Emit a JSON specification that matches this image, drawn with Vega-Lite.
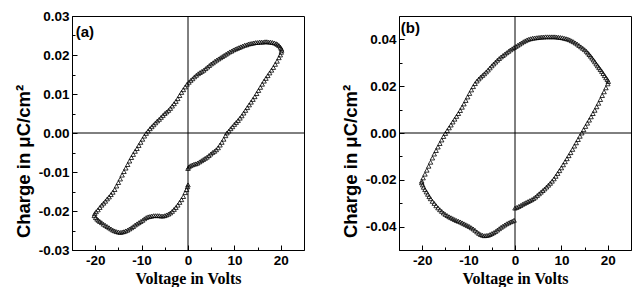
{
  "$schema": "https://vega.github.io/schema/vega-lite/v6.json",
  "padding": {"left": 13, "top": 8, "right": 0, "bottom": 0},
  "spacing": 35,
  "background": "white",
  "config": {
    "view": {"stroke": "black", "strokeWidth": 1},
    "axis": {"domainColor": "black", "domainWidth": 1, "tickColor": "black", "tickWidth": 1, "labelColor": "black", "labelFont": "Liberation Sans", "labelFontWeight": "bold", "labelFontSize": 13.5, "titleColor": "black", "titleFontWeight": "bold", "grid": false, "labelFlush": false, "labelOverlap": false, "labelBound": false, "tickCount": 50},
    "axisX": {"titleFont": "Liberation Sans Narrow", "titleFontSize": 16, "titlePadding": 2, "labelPadding": 8},
    "axisY": {"titleFont": "Liberation Sans", "titleFontSize": 18.5, "titlePadding": 3, "labelPadding": 8, "titleY": 145}
  },
  "datasets": {
    "a": [
      {"v":0.0,"q":-0.0091},{"v":0.2,"q":-0.0087},{"v":0.5,"q":-0.0084},{"v":0.9,"q":-0.0082},{"v":1.3,"q":-0.0080},{"v":1.7,"q":-0.0079},{"v":2.1,"q":-0.0077},{"v":2.5,"q":-0.0074},{"v":2.9,"q":-0.0071},{"v":3.3,"q":-0.0068},{"v":3.7,"q":-0.0065},{"v":4.1,"q":-0.0062},{"v":4.5,"q":-0.0058},{"v":4.9,"q":-0.0054},{"v":5.3,"q":-0.0050},{"v":5.7,"q":-0.0047},{"v":6.1,"q":-0.0043},{"v":6.5,"q":-0.0038},{"v":6.9,"q":-0.0031},{"v":7.3,"q":-0.0024},{"v":7.7,"q":-0.0016},{"v":8.1,"q":-0.0007},{"v":8.4,"q":0.0000},{"v":8.8,"q":0.0005},{"v":9.2,"q":0.0011},{"v":9.6,"q":0.0016},{"v":10.0,"q":0.0022},{"v":10.4,"q":0.0027},{"v":10.8,"q":0.0032},{"v":11.2,"q":0.0038},{"v":11.6,"q":0.0044},{"v":12.0,"q":0.0051},{"v":12.4,"q":0.0058},{"v":12.8,"q":0.0065},{"v":13.2,"q":0.0072},{"v":13.6,"q":0.0079},{"v":14.0,"q":0.0086},{"v":14.4,"q":0.0093},{"v":14.8,"q":0.0101},{"v":15.2,"q":0.0109},{"v":15.6,"q":0.0117},{"v":16.0,"q":0.0125},{"v":16.4,"q":0.0133},{"v":16.8,"q":0.0140},{"v":17.2,"q":0.0147},{"v":17.6,"q":0.0154},{"v":18.0,"q":0.0161},{"v":18.4,"q":0.0168},{"v":18.8,"q":0.0176},{"v":19.2,"q":0.0184},{"v":19.6,"q":0.0193},{"v":19.9,"q":0.0200},{"v":20.1,"q":0.0207},
      {"v":20.2,"q":0.0212},{"v":20.1,"q":0.0216},{"v":19.9,"q":0.0220},{"v":19.6,"q":0.0224},{"v":19.3,"q":0.0227},{"v":19.0,"q":0.0229},{"v":18.6,"q":0.0231},{"v":18.2,"q":0.0232},{"v":17.8,"q":0.0233},{"v":17.4,"q":0.0233},{"v":17.0,"q":0.0234},{"v":16.6,"q":0.0234},{"v":16.2,"q":0.0233},{"v":15.8,"q":0.0233},{"v":15.4,"q":0.0233},{"v":15.0,"q":0.0232},{"v":14.6,"q":0.0232},{"v":14.2,"q":0.0231},{"v":13.8,"q":0.0230},{"v":13.4,"q":0.0229},{"v":13.0,"q":0.0228},{"v":12.6,"q":0.0226},{"v":12.2,"q":0.0225},{"v":11.8,"q":0.0223},{"v":11.4,"q":0.0221},{"v":11.0,"q":0.0219},{"v":10.6,"q":0.0217},{"v":10.2,"q":0.0215},{"v":9.8,"q":0.0213},{"v":9.4,"q":0.0210},{"v":9.0,"q":0.0208},{"v":8.6,"q":0.0205},{"v":8.2,"q":0.0202},{"v":7.8,"q":0.0199},{"v":7.4,"q":0.0196},{"v":7.0,"q":0.0193},{"v":6.6,"q":0.0190},{"v":6.2,"q":0.0187},{"v":5.8,"q":0.0184},{"v":5.4,"q":0.0180},{"v":5.0,"q":0.0177},{"v":4.6,"q":0.0173},{"v":4.2,"q":0.0169},{"v":3.8,"q":0.0165},{"v":3.4,"q":0.0161},{"v":3.0,"q":0.0158},{"v":2.6,"q":0.0155},{"v":2.2,"q":0.0152},{"v":1.8,"q":0.0148},{"v":1.4,"q":0.0144},{"v":1.0,"q":0.0139},{"v":0.6,"q":0.0135},{"v":0.2,"q":0.0130},
      {"v":-0.2,"q":0.0125},{"v":-0.6,"q":0.0118},{"v":-1.0,"q":0.0111},{"v":-1.4,"q":0.0104},{"v":-1.8,"q":0.0096},{"v":-2.2,"q":0.0088},{"v":-2.6,"q":0.0081},{"v":-3.0,"q":0.0075},{"v":-3.4,"q":0.0069},{"v":-3.8,"q":0.0063},{"v":-4.2,"q":0.0058},{"v":-4.6,"q":0.0054},{"v":-5.0,"q":0.0050},{"v":-5.4,"q":0.0045},{"v":-5.8,"q":0.0040},{"v":-6.2,"q":0.0035},{"v":-6.6,"q":0.0031},{"v":-7.0,"q":0.0026},{"v":-7.4,"q":0.0021},{"v":-7.8,"q":0.0016},{"v":-8.2,"q":0.0011},{"v":-8.6,"q":0.0005},{"v":-9.0,"q":-0.0001},{"v":-9.4,"q":-0.0008},{"v":-9.8,"q":-0.0016},{"v":-10.2,"q":-0.0024},{"v":-10.6,"q":-0.0032},{"v":-11.0,"q":-0.0040},{"v":-11.4,"q":-0.0047},{"v":-11.8,"q":-0.0055},{"v":-12.2,"q":-0.0063},{"v":-12.6,"q":-0.0072},{"v":-13.0,"q":-0.0081},{"v":-13.4,"q":-0.0090},{"v":-13.8,"q":-0.0099},{"v":-14.2,"q":-0.0108},{"v":-14.6,"q":-0.0118},{"v":-15.0,"q":-0.0127},{"v":-15.4,"q":-0.0136},{"v":-15.8,"q":-0.0145},{"v":-16.2,"q":-0.0152},{"v":-16.6,"q":-0.0158},{"v":-17.0,"q":-0.0164},{"v":-17.4,"q":-0.0169},{"v":-17.8,"q":-0.0175},{"v":-18.2,"q":-0.0180},{"v":-18.6,"q":-0.0185},{"v":-19.0,"q":-0.0191},{"v":-19.4,"q":-0.0197},{"v":-19.8,"q":-0.0202},{"v":-20.1,"q":-0.0207},
      {"v":-20.2,"q":-0.0212},{"v":-19.9,"q":-0.0217},{"v":-19.6,"q":-0.0221},{"v":-19.3,"q":-0.0224},{"v":-19.0,"q":-0.0227},{"v":-18.6,"q":-0.0230},{"v":-18.2,"q":-0.0234},{"v":-17.8,"q":-0.0237},{"v":-17.4,"q":-0.0240},{"v":-17.0,"q":-0.0243},{"v":-16.6,"q":-0.0246},{"v":-16.2,"q":-0.0249},{"v":-15.8,"q":-0.0251},{"v":-15.4,"q":-0.0253},{"v":-15.0,"q":-0.0254},{"v":-14.6,"q":-0.0255},{"v":-14.2,"q":-0.0254},{"v":-13.8,"q":-0.0253},{"v":-13.4,"q":-0.0251},{"v":-13.0,"q":-0.0249},{"v":-12.6,"q":-0.0246},{"v":-12.2,"q":-0.0243},{"v":-11.8,"q":-0.0240},{"v":-11.4,"q":-0.0236},{"v":-11.0,"q":-0.0233},{"v":-10.6,"q":-0.0230},{"v":-10.2,"q":-0.0227},{"v":-9.8,"q":-0.0224},{"v":-9.4,"q":-0.0220},{"v":-9.0,"q":-0.0217},{"v":-8.6,"q":-0.0215},{"v":-8.2,"q":-0.0214},{"v":-7.8,"q":-0.0213},{"v":-7.4,"q":-0.0212},{"v":-7.0,"q":-0.0212},{"v":-6.6,"q":-0.0212},{"v":-6.2,"q":-0.0212},{"v":-5.8,"q":-0.0213},{"v":-5.4,"q":-0.0213},{"v":-5.0,"q":-0.0212},{"v":-4.6,"q":-0.0210},{"v":-4.2,"q":-0.0208},{"v":-3.8,"q":-0.0205},{"v":-3.4,"q":-0.0201},{"v":-3.0,"q":-0.0196},{"v":-2.6,"q":-0.0191},{"v":-2.2,"q":-0.0185},{"v":-1.8,"q":-0.0178},{"v":-1.4,"q":-0.0171},{"v":-1.0,"q":-0.0163},{"v":-0.6,"q":-0.0153},{"v":-0.3,"q":-0.0145},{"v":-0.1,"q":-0.0138},{"v":0.0,"q":-0.0133}
    ],
    "b": [
      {"v":0.0,"q":-0.0321},{"v":0.4,"q":-0.0318},{"v":0.8,"q":-0.0314},{"v":1.2,"q":-0.0310},{"v":1.6,"q":-0.0305},{"v":2.0,"q":-0.0301},{"v":2.4,"q":-0.0297},{"v":2.8,"q":-0.0293},{"v":3.2,"q":-0.0289},{"v":3.6,"q":-0.0285},{"v":4.0,"q":-0.0280},{"v":4.4,"q":-0.0274},{"v":4.8,"q":-0.0267},{"v":5.2,"q":-0.0260},{"v":5.6,"q":-0.0253},{"v":6.0,"q":-0.0246},{"v":6.4,"q":-0.0239},{"v":6.8,"q":-0.0231},{"v":7.2,"q":-0.0223},{"v":7.6,"q":-0.0215},{"v":8.0,"q":-0.0206},{"v":8.4,"q":-0.0196},{"v":8.8,"q":-0.0185},{"v":9.2,"q":-0.0173},{"v":9.6,"q":-0.0161},{"v":10.0,"q":-0.0149},{"v":10.4,"q":-0.0136},{"v":10.8,"q":-0.0123},{"v":11.2,"q":-0.0110},{"v":11.6,"q":-0.0097},{"v":12.0,"q":-0.0084},{"v":12.4,"q":-0.0070},{"v":12.8,"q":-0.0056},{"v":13.2,"q":-0.0042},{"v":13.6,"q":-0.0028},{"v":14.0,"q":-0.0014},{"v":14.4,"q":0.0000},{"v":14.8,"q":0.0014},{"v":15.2,"q":0.0028},{"v":15.6,"q":0.0042},{"v":16.0,"q":0.0055},{"v":16.4,"q":0.0069},{"v":16.8,"q":0.0083},{"v":17.2,"q":0.0097},{"v":17.6,"q":0.0112},{"v":18.0,"q":0.0127},{"v":18.4,"q":0.0143},{"v":18.8,"q":0.0160},{"v":19.2,"q":0.0176},{"v":19.6,"q":0.0193},{"v":20.0,"q":0.0210},
      {"v":20.1,"q":0.0220},{"v":19.9,"q":0.0228},{"v":19.6,"q":0.0236},{"v":19.3,"q":0.0245},{"v":19.0,"q":0.0254},{"v":18.7,"q":0.0263},{"v":18.4,"q":0.0271},{"v":18.1,"q":0.0279},{"v":17.8,"q":0.0287},{"v":17.5,"q":0.0295},{"v":17.2,"q":0.0304},{"v":16.9,"q":0.0312},{"v":16.6,"q":0.0320},{"v":16.3,"q":0.0328},{"v":16.0,"q":0.0335},{"v":15.7,"q":0.0342},{"v":15.4,"q":0.0349},{"v":15.0,"q":0.0356},{"v":14.6,"q":0.0362},{"v":14.2,"q":0.0368},{"v":13.8,"q":0.0374},{"v":13.4,"q":0.0380},{"v":13.0,"q":0.0385},{"v":12.6,"q":0.0390},{"v":12.2,"q":0.0394},{"v":11.8,"q":0.0398},{"v":11.4,"q":0.0401},{"v":11.0,"q":0.0403},{"v":10.6,"q":0.0405},{"v":10.2,"q":0.0407},{"v":9.8,"q":0.0408},{"v":9.4,"q":0.0409},{"v":9.0,"q":0.0410},{"v":8.6,"q":0.0411},{"v":8.2,"q":0.0411},{"v":7.8,"q":0.0411},{"v":7.4,"q":0.0411},{"v":7.0,"q":0.0411},{"v":6.6,"q":0.0411},{"v":6.2,"q":0.0410},{"v":5.8,"q":0.0410},{"v":5.4,"q":0.0409},{"v":5.0,"q":0.0408},{"v":4.6,"q":0.0407},{"v":4.2,"q":0.0406},{"v":3.8,"q":0.0405},{"v":3.4,"q":0.0403},{"v":3.0,"q":0.0401},{"v":2.6,"q":0.0398},{"v":2.2,"q":0.0394},{"v":1.8,"q":0.0390},{"v":1.4,"q":0.0385},{"v":1.0,"q":0.0380},{"v":0.6,"q":0.0375},{"v":0.2,"q":0.0370},
      {"v":-0.2,"q":0.0365},{"v":-0.6,"q":0.0360},{"v":-1.0,"q":0.0355},{"v":-1.4,"q":0.0349},{"v":-1.8,"q":0.0343},{"v":-2.2,"q":0.0337},{"v":-2.6,"q":0.0331},{"v":-3.0,"q":0.0325},{"v":-3.4,"q":0.0318},{"v":-3.8,"q":0.0311},{"v":-4.2,"q":0.0303},{"v":-4.6,"q":0.0295},{"v":-5.0,"q":0.0287},{"v":-5.4,"q":0.0278},{"v":-5.8,"q":0.0269},{"v":-6.2,"q":0.0261},{"v":-6.6,"q":0.0253},{"v":-7.0,"q":0.0246},{"v":-7.4,"q":0.0239},{"v":-7.8,"q":0.0231},{"v":-8.2,"q":0.0222},{"v":-8.6,"q":0.0211},{"v":-9.0,"q":0.0198},{"v":-9.4,"q":0.0184},{"v":-9.8,"q":0.0169},{"v":-10.2,"q":0.0154},{"v":-10.6,"q":0.0139},{"v":-11.0,"q":0.0124},{"v":-11.4,"q":0.0110},{"v":-11.8,"q":0.0096},{"v":-12.2,"q":0.0083},{"v":-12.6,"q":0.0071},{"v":-13.0,"q":0.0059},{"v":-13.4,"q":0.0047},{"v":-13.8,"q":0.0034},{"v":-14.2,"q":0.0022},{"v":-14.6,"q":0.0010},{"v":-15.0,"q":-0.0002},{"v":-15.4,"q":-0.0015},{"v":-15.8,"q":-0.0030},{"v":-16.2,"q":-0.0045},{"v":-16.6,"q":-0.0060},{"v":-17.0,"q":-0.0075},{"v":-17.4,"q":-0.0090},{"v":-17.8,"q":-0.0107},{"v":-18.2,"q":-0.0125},{"v":-18.6,"q":-0.0142},{"v":-19.0,"q":-0.0159},{"v":-19.4,"q":-0.0176},{"v":-19.8,"q":-0.0192},{"v":-20.1,"q":-0.0206},
      {"v":-20.1,"q":-0.0213},{"v":-19.9,"q":-0.0222},{"v":-19.7,"q":-0.0232},{"v":-19.4,"q":-0.0242},{"v":-19.1,"q":-0.0252},{"v":-18.8,"q":-0.0262},{"v":-18.5,"q":-0.0272},{"v":-18.2,"q":-0.0281},{"v":-17.8,"q":-0.0292},{"v":-17.4,"q":-0.0301},{"v":-17.0,"q":-0.0311},{"v":-16.6,"q":-0.0320},{"v":-16.2,"q":-0.0328},{"v":-15.8,"q":-0.0335},{"v":-15.4,"q":-0.0342},{"v":-15.0,"q":-0.0348},{"v":-14.6,"q":-0.0353},{"v":-14.2,"q":-0.0358},{"v":-13.8,"q":-0.0362},{"v":-13.4,"q":-0.0366},{"v":-13.0,"q":-0.0370},{"v":-12.6,"q":-0.0374},{"v":-12.2,"q":-0.0377},{"v":-11.8,"q":-0.0380},{"v":-11.4,"q":-0.0384},{"v":-11.0,"q":-0.0388},{"v":-10.6,"q":-0.0392},{"v":-10.2,"q":-0.0396},{"v":-9.8,"q":-0.0400},{"v":-9.4,"q":-0.0405},{"v":-9.0,"q":-0.0410},{"v":-8.6,"q":-0.0416},{"v":-8.2,"q":-0.0423},{"v":-7.8,"q":-0.0429},{"v":-7.4,"q":-0.0434},{"v":-7.0,"q":-0.0437},{"v":-6.6,"q":-0.0439},{"v":-6.2,"q":-0.0438},{"v":-5.8,"q":-0.0437},{"v":-5.4,"q":-0.0434},{"v":-5.0,"q":-0.0430},{"v":-4.6,"q":-0.0426},{"v":-4.2,"q":-0.0421},{"v":-3.8,"q":-0.0415},{"v":-3.4,"q":-0.0409},{"v":-3.0,"q":-0.0403},{"v":-2.6,"q":-0.0398},{"v":-2.2,"q":-0.0393},{"v":-1.8,"q":-0.0388},{"v":-1.4,"q":-0.0384},{"v":-1.0,"q":-0.0380},{"v":-0.6,"q":-0.0377},{"v":-0.2,"q":-0.0373}
    ]
  },
  "hconcat": [
    {
      "width": 232,
      "height": 234,
      "layer": [
        {
          "data": {"name": "a"},
          "mark": {"type": "point", "shape": "triangle-up", "filled": false, "size": 20, "stroke": "black", "strokeWidth": 0.8, "opacity": 1},
          "encoding": {
            "x": {"field": "v", "type": "quantitative", "scale": {"domain": [-25, 25], "nice": false, "zero": false},
              "axis": {"title": "Voltage in Volts", "values": [-20, -15, -10, -5, 0, 5, 10, 15, 20], "tickCount": 50, "labelOverlap": false, "labelExpr": "(datum.value < 0 ? '-' : '') + format(abs(datum.value), 'd')", "labelOpacity": {"condition": {"test": "datum.value % 10 != 0", "value": 0}, "value": 1}, "tickSize": {"expr": "datum.value % 10 == 0 ? -5 : -3"}}},
            "y": {"field": "q", "type": "quantitative", "scale": {"domain": [-0.03, 0.03], "nice": false, "zero": false},
              "axis": {"title": "Charge in μC/cm²", "values": [-0.03, -0.025, -0.02, -0.015, -0.01, -0.005, 0, 0.005, 0.01, 0.015, 0.02, 0.025, 0.03], "tickCount": 50, "labelOverlap": false, "labelExpr": "(datum.value < -0.0001 ? '-' : '') + format(abs(datum.value), '.2f')", "labelOpacity": {"condition": {"test": "abs(round(datum.value * 1000)) % 10 != 0", "value": 0}, "value": 1}, "tickSize": {"expr": "abs(round(datum.value * 1000)) % 10 == 0 ? -5 : -3"}}}
          }
        },
        {"data": {"values": [{}]}, "mark": {"type": "rule", "color": "black", "strokeWidth": 1}, "encoding": {"x": {"datum": 0, "type": "quantitative"}}},
        {"data": {"values": [{}]}, "mark": {"type": "rule", "color": "black", "strokeWidth": 1}, "encoding": {"y": {"datum": 0, "type": "quantitative"}}},
        {"data": {"values": [{}]}, "mark": {"type": "text", "text": "(a)", "align": "left", "baseline": "middle", "font": "Liberation Sans", "fontWeight": "bold", "fontSize": 15, "color": "black"}, "encoding": {"x": {"datum": -24.2, "type": "quantitative"}, "y": {"datum": 0.0259, "type": "quantitative"}}}
      ]
    },
    {
      "width": 232,
      "height": 234,
      "layer": [
        {
          "data": {"name": "b"},
          "mark": {"type": "point", "shape": "triangle-up", "filled": false, "size": 20, "stroke": "black", "strokeWidth": 0.8, "opacity": 1},
          "encoding": {
            "x": {"field": "v", "type": "quantitative", "scale": {"domain": [-25, 25], "nice": false, "zero": false},
              "axis": {"title": "Voltage in Volts", "values": [-20, -15, -10, -5, 0, 5, 10, 15, 20], "tickCount": 50, "labelOverlap": false, "labelExpr": "(datum.value < 0 ? '-' : '') + format(abs(datum.value), 'd')", "labelOpacity": {"condition": {"test": "datum.value % 10 != 0", "value": 0}, "value": 1}, "tickSize": {"expr": "datum.value % 10 == 0 ? -5 : -3"}}},
            "y": {"field": "q", "type": "quantitative", "scale": {"domain": [-0.05, 0.05], "nice": false, "zero": false},
              "axis": {"title": "Charge in μC/cm²", "values": [-0.04, -0.03, -0.02, -0.01, 0, 0.01, 0.02, 0.03, 0.04], "tickCount": 50, "labelOverlap": false, "labelExpr": "(datum.value < -0.0001 ? '-' : '') + format(abs(datum.value), '.2f')", "labelOpacity": {"condition": {"test": "abs(round(datum.value * 100)) % 2 != 0", "value": 0}, "value": 1}, "tickSize": {"expr": "abs(round(datum.value * 100)) % 2 == 0 ? -5 : -3"}}}
          }
        },
        {"data": {"values": [{}]}, "mark": {"type": "rule", "color": "black", "strokeWidth": 1}, "encoding": {"x": {"datum": 0, "type": "quantitative"}}},
        {"data": {"values": [{}]}, "mark": {"type": "rule", "color": "black", "strokeWidth": 1}, "encoding": {"y": {"datum": 0, "type": "quantitative"}}},
        {"data": {"values": [{}]}, "mark": {"type": "text", "text": "(b)", "align": "left", "baseline": "middle", "font": "Liberation Sans", "fontWeight": "bold", "fontSize": 15, "color": "black"}, "encoding": {"x": {"datum": -24.6, "type": "quantitative"}, "y": {"datum": 0.0449, "type": "quantitative"}}}
      ]
    }
  ]
}
